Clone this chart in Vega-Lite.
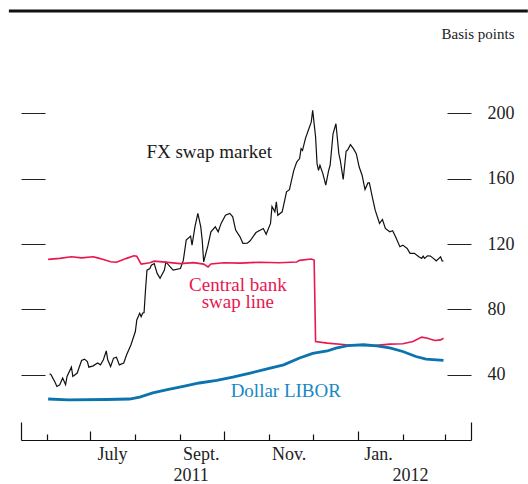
{
  "$schema": "https://vega.github.io/schema/vega-lite/v6.json",
  "width": 450,
  "height": 392,
  "autosize": "none",
  "padding": {"left": 21, "top": 48, "right": 57, "bottom": 44},
  "background": "white",
  "config": {
    "view": {"stroke": null},
    "font": "Liberation Serif",
    "axis": {"labelFont": "Liberation Serif", "titleFont": "Liberation Serif", "grid": false, "labelColor": "#222", "titleColor": "#222"}
  },
  "datasets": {
    "fx": [
      {"date": "2011-06-03", "value": 40.5}, {"date": "2011-06-04", "value": 40}, {"date": "2011-06-07", "value": 34.9}, {"date": "2011-06-08", "value": 32.8},
      {"date": "2011-06-10", "value": 33.8}, {"date": "2011-06-12", "value": 37.9}, {"date": "2011-06-14", "value": 33.8}, {"date": "2011-06-15", "value": 38.9},
      {"date": "2011-06-18", "value": 44.6}, {"date": "2011-06-19", "value": 38.9}, {"date": "2011-06-22", "value": 41}, {"date": "2011-06-25", "value": 48.7},
      {"date": "2011-06-27", "value": 49.5}, {"date": "2011-06-29", "value": 48}, {"date": "2011-06-30", "value": 44.6}, {"date": "2011-07-03", "value": 45.4},
      {"date": "2011-07-06", "value": 47.1}, {"date": "2011-07-08", "value": 46}, {"date": "2011-07-10", "value": 49.1}, {"date": "2011-07-12", "value": 54.6},
      {"date": "2011-07-13", "value": 49.1}, {"date": "2011-07-15", "value": 45}, {"date": "2011-07-17", "value": 50.1}, {"date": "2011-07-19", "value": 50.7},
      {"date": "2011-07-21", "value": 46}, {"date": "2011-07-24", "value": 47.1}, {"date": "2011-07-26", "value": 52.2}, {"date": "2011-07-29", "value": 58.3},
      {"date": "2011-08-01", "value": 66.4}, {"date": "2011-08-02", "value": 73.5}, {"date": "2011-08-04", "value": 77.6}, {"date": "2011-08-05", "value": 75.5},
      {"date": "2011-08-06", "value": 77.6}, {"date": "2011-08-07", "value": 78}, {"date": "2011-08-08", "value": 92}, {"date": "2011-08-09", "value": 104},
      {"date": "2011-08-11", "value": 105}, {"date": "2011-08-12", "value": 107}, {"date": "2011-08-14", "value": 108}, {"date": "2011-08-16", "value": 102},
      {"date": "2011-08-18", "value": 99}, {"date": "2011-08-21", "value": 104}, {"date": "2011-08-22", "value": 109}, {"date": "2011-08-25", "value": 106},
      {"date": "2011-08-27", "value": 104}, {"date": "2011-09-01", "value": 105}, {"date": "2011-09-03", "value": 110}, {"date": "2011-09-05", "value": 122.4},
      {"date": "2011-09-08", "value": 124.8}, {"date": "2011-09-09", "value": 119.3}, {"date": "2011-09-11", "value": 130.5}, {"date": "2011-09-13", "value": 138.7},
      {"date": "2011-09-15", "value": 130.5}, {"date": "2011-09-16", "value": 122.4}, {"date": "2011-09-17", "value": 109}, {"date": "2011-09-20", "value": 119.3},
      {"date": "2011-09-22", "value": 127.5}, {"date": "2011-09-25", "value": 130.5}, {"date": "2011-09-27", "value": 127.5}, {"date": "2011-09-29", "value": 132.6},
      {"date": "2011-10-02", "value": 137.6}, {"date": "2011-10-05", "value": 138.7}, {"date": "2011-10-07", "value": 136.6}, {"date": "2011-10-09", "value": 128.5},
      {"date": "2011-10-12", "value": 124.4}, {"date": "2011-10-14", "value": 120.4}, {"date": "2011-10-17", "value": 120.5}, {"date": "2011-10-19", "value": 122},
      {"date": "2011-10-23", "value": 127}, {"date": "2011-10-28", "value": 129.5}, {"date": "2011-10-30", "value": 126}, {"date": "2011-11-02", "value": 132.6},
      {"date": "2011-11-03", "value": 143}, {"date": "2011-11-05", "value": 139.7}, {"date": "2011-11-06", "value": 145.8}, {"date": "2011-11-07", "value": 137.6},
      {"date": "2011-11-10", "value": 139.7}, {"date": "2011-11-13", "value": 151.9}, {"date": "2011-11-15", "value": 153.3}, {"date": "2011-11-18", "value": 165.1},
      {"date": "2011-11-20", "value": 170.2}, {"date": "2011-11-22", "value": 172.3}, {"date": "2011-11-23", "value": 178.4}, {"date": "2011-11-24", "value": 177.3},
      {"date": "2011-11-26", "value": 184.5}, {"date": "2011-11-28", "value": 189.6}, {"date": "2011-11-30", "value": 194.6}, {"date": "2011-12-01", "value": 201.8},
      {"date": "2011-12-03", "value": 185.5}, {"date": "2011-12-04", "value": 169.2}, {"date": "2011-12-05", "value": 165.1}, {"date": "2011-12-06", "value": 168.2},
      {"date": "2011-12-08", "value": 163.1}, {"date": "2011-12-10", "value": 156}, {"date": "2011-12-12", "value": 165.1}, {"date": "2011-12-13", "value": 168.2},
      {"date": "2011-12-15", "value": 187.5}, {"date": "2011-12-17", "value": 193.6}, {"date": "2011-12-19", "value": 175.3}, {"date": "2011-12-20", "value": 171.2},
      {"date": "2011-12-22", "value": 159.5}, {"date": "2011-12-24", "value": 176.8}, {"date": "2011-12-25", "value": 177.5}, {"date": "2011-12-27", "value": 180.8},
      {"date": "2011-12-29", "value": 178.4}, {"date": "2011-12-31", "value": 175.3}, {"date": "2012-01-02", "value": 167.1}, {"date": "2012-01-04", "value": 162.1},
      {"date": "2012-01-06", "value": 153.3}, {"date": "2012-01-08", "value": 157.4}, {"date": "2012-01-09", "value": 157.4}, {"date": "2012-01-11", "value": 148.8},
      {"date": "2012-01-13", "value": 140.7}, {"date": "2012-01-16", "value": 132.6}, {"date": "2012-01-18", "value": 135}, {"date": "2012-01-20", "value": 129.5},
      {"date": "2012-01-23", "value": 127.5}, {"date": "2012-01-25", "value": 128.1}, {"date": "2012-01-27", "value": 124.4}, {"date": "2012-01-30", "value": 118.3},
      {"date": "2012-02-01", "value": 119.3}, {"date": "2012-02-04", "value": 117.3}, {"date": "2012-02-06", "value": 114.3}, {"date": "2012-02-09", "value": 114.3},
      {"date": "2012-02-12", "value": 112.2}, {"date": "2012-02-14", "value": 111.2}, {"date": "2012-02-15", "value": 112.6}, {"date": "2012-02-16", "value": 111.2},
      {"date": "2012-02-18", "value": 112.8}, {"date": "2012-02-20", "value": 112.6}, {"date": "2012-02-22", "value": 111.2}, {"date": "2012-02-24", "value": 109.7},
      {"date": "2012-02-27", "value": 112.2}, {"date": "2012-02-28", "value": 109.7}, {"date": "2012-02-29", "value": 109.6}
    ],
    "cb": [
      {"date": "2011-06-02", "value": 110.6}, {"date": "2011-06-10", "value": 111.2}, {"date": "2011-06-18", "value": 112.2}, {"date": "2011-06-25", "value": 111.5},
      {"date": "2011-07-03", "value": 112.2}, {"date": "2011-07-06", "value": 111.5}, {"date": "2011-07-10", "value": 110.5}, {"date": "2011-07-15", "value": 109.1},
      {"date": "2011-07-19", "value": 108.8}, {"date": "2011-07-26", "value": 111.2}, {"date": "2011-07-31", "value": 112.8}, {"date": "2011-08-02", "value": 112.5},
      {"date": "2011-08-05", "value": 107.7}, {"date": "2011-08-11", "value": 108.5}, {"date": "2011-08-14", "value": 109.5}, {"date": "2011-08-25", "value": 108.6},
      {"date": "2011-09-01", "value": 108}, {"date": "2011-09-10", "value": 108.6}, {"date": "2011-09-17", "value": 107.7}, {"date": "2011-09-20", "value": 106},
      {"date": "2011-09-22", "value": 107.8}, {"date": "2011-10-01", "value": 108.5}, {"date": "2011-10-12", "value": 108.3}, {"date": "2011-10-25", "value": 108.8},
      {"date": "2011-11-08", "value": 108.5}, {"date": "2011-11-20", "value": 109}, {"date": "2011-11-22", "value": 110}, {"date": "2011-11-30", "value": 110.8},
      {"date": "2011-12-02", "value": 110.2}, {"date": "2011-12-03", "value": 60.3}, {"date": "2011-12-11", "value": 59.3}, {"date": "2011-12-24", "value": 58.3},
      {"date": "2012-01-12", "value": 57.8}, {"date": "2012-01-23", "value": 58.7}, {"date": "2012-02-01", "value": 58.9}, {"date": "2012-02-08", "value": 60.3},
      {"date": "2012-02-14", "value": 63}, {"date": "2012-02-18", "value": 62.3}, {"date": "2012-02-23", "value": 60.9}, {"date": "2012-02-27", "value": 61.3},
      {"date": "2012-02-29", "value": 62.3}
    ],
    "libor": [
      {"date": "2011-06-02", "value": 25.1}, {"date": "2011-06-16", "value": 24.6}, {"date": "2011-07-12", "value": 24.8}, {"date": "2011-07-28", "value": 25.1},
      {"date": "2011-08-04", "value": 26.3}, {"date": "2011-08-13", "value": 28.8}, {"date": "2011-08-23", "value": 30.8}, {"date": "2011-09-03", "value": 32.8},
      {"date": "2011-09-14", "value": 34.9}, {"date": "2011-09-26", "value": 36.5}, {"date": "2011-10-07", "value": 38.5}, {"date": "2011-10-19", "value": 41},
      {"date": "2011-10-30", "value": 43.4}, {"date": "2011-11-11", "value": 46}, {"date": "2011-11-22", "value": 50.2}, {"date": "2011-12-01", "value": 53},
      {"date": "2011-12-11", "value": 54.5}, {"date": "2011-12-17", "value": 56.2}, {"date": "2011-12-25", "value": 57.8}, {"date": "2012-01-05", "value": 58.3},
      {"date": "2012-01-14", "value": 57.6}, {"date": "2012-01-23", "value": 56.4}, {"date": "2012-02-01", "value": 54.2}, {"date": "2012-02-10", "value": 51.1},
      {"date": "2012-02-17", "value": 49.5}, {"date": "2012-02-29", "value": 48.7}
    ],
    "labels": [
      {"label": "FX swap market", "date": "2011-09-20T19:00:00Z", "value": 172.9, "series": "fx"},
      {"label": "Central bank\nswap line", "date": "2011-10-10T12:00:00Z", "value": 91.4, "series": "cb"},
      {"label": "Dollar LIBOR", "date": "2011-11-12T12:00:00Z", "value": 26.3, "series": "libor"}
    ]
  },
  "layer": [
    {
      "data": {"name": "fx"},
      "mark": {"type": "line", "color": "#111111", "strokeWidth": 1.2},
      "encoding": {
        "x": {
          "field": "date", "type": "temporal",
          "scale": {"type": "utc", "domain": [{"year": 2011, "month": 5, "date": 14, "hours": 8, "utc": true}, {"year": 2012, "month": 3, "date": 18, "hours": 22, "utc": true}]},
          "axis": {
            "orient": "bottom", "title": null, "labels": false, "domain": true, "domainColor": "#111111", "domainWidth": 1.2,
            "ticks": true, "tickColor": "#111111", "tickWidth": 1.2,
            "values": [
              {"year": 2011, "month": 5, "date": 14, "hours": 8, "utc": true},
              {"year": 2011, "month": 6, "date": 1, "utc": true}, {"year": 2011, "month": 7, "date": 1, "utc": true},
              {"year": 2011, "month": 8, "date": 1, "utc": true}, {"year": 2011, "month": 9, "date": 1, "utc": true},
              {"year": 2011, "month": 10, "date": 1, "utc": true}, {"year": 2011, "month": 11, "date": 1, "utc": true},
              {"year": 2011, "month": 12, "date": 1, "utc": true}, {"year": 2012, "month": 1, "date": 1, "utc": true},
              {"year": 2012, "month": 2, "date": 1, "utc": true}, {"year": 2012, "month": 3, "date": 1, "utc": true},
              {"year": 2012, "month": 3, "date": 18, "hours": 22, "utc": true}
            ],
            "tickSize": {
              "condition": [
                {"test": "utcdate(datum.value) != 1", "value": -18},
                {"test": "utcmonth(datum.value) % 3 == 0", "value": -9}
              ],
              "value": -6
            }
          }
        },
        "y": {
          "field": "value", "type": "quantitative", "scale": {"domain": [0, 240]},
          "axis": {"orient": "left", "title": null, "labels": false, "domain": false, "values": [40, 80, 120, 160, 200], "tickSize": -24, "tickColor": "#222222", "tickWidth": 1}
        }
      }
    },
    {
      "data": {"name": "cb"},
      "mark": {"type": "line", "color": "#e8174f", "strokeWidth": 1.6},
      "encoding": {
        "x": {
          "field": "date", "type": "temporal",
          "axis": {
            "orient": "bottom", "title": null, "domain": false, "ticks": false, "labelPadding": 19, "labelBaseline": "alphabetic",
            "labelFontSize": 18, "labelFlush": false, "labelOverlap": false,
            "values": [
              {"year": 2011, "month": 7, "date": 16, "utc": true}, {"year": 2011, "month": 9, "date": 15, "utc": true},
              {"year": 2011, "month": 11, "date": 14, "hours": 12, "utc": true}, {"year": 2012, "month": 1, "date": 15, "utc": true}
            ],
            "labelExpr": "utcmonth(datum.value) == 6 ? 'July' : utcmonth(datum.value) == 8 ? 'Sept.' : utcmonth(datum.value) == 10 ? 'Nov.' : 'Jan.'"
          }
        },
        "y": {
          "field": "value", "type": "quantitative",
          "axis": {
            "orient": "right", "offset": -24, "domain": false, "values": [40, 80, 120, 160, 200], "tickSize": 24, "tickColor": "#222222", "tickWidth": 1,
            "labelPadding": 16, "labelFontSize": 18,
            "title": "Basis points", "titleAngle": 0, "titleAlign": "right", "titleBaseline": "alphabetic", "titleX": 67, "titleY": -10,
            "titleFontSize": 15, "titleFontWeight": "normal"
          }
        }
      }
    },
    {
      "data": {"name": "libor"},
      "mark": {"type": "line", "color": "#0b73ad", "strokeWidth": 2.8},
      "encoding": {
        "x": {
          "field": "date", "type": "temporal",
          "axis": {
            "orient": "bottom", "title": null, "domain": false, "ticks": false, "labelPadding": 40, "labelBaseline": "alphabetic",
            "labelFontSize": 18, "labelFlush": false, "labelOverlap": false,
            "values": [{"year": 2011, "month": 9, "date": 8, "utc": true}, {"year": 2012, "month": 2, "date": 6, "utc": true}],
            "labelExpr": "utcyear(datum.value)"
          }
        },
        "y": {"field": "value", "type": "quantitative", "axis": null}
      }
    },
    {
      "mark": {"type": "rule", "color": "#555555", "strokeWidth": 1},
      "encoding": {"y": {"datum": 240, "type": "quantitative", "axis": null}}
    },
    {
      "data": {"values": [{}]},
      "mark": {"type": "rule", "color": "#111111", "strokeWidth": 3, "clip": false},
      "encoding": {
        "y": {"datum": 262.7, "type": "quantitative", "axis": null},
        "x": {"datum": 1304640000000, "type": "temporal", "axis": null},
        "x2": {"datum": 1335484800000}
      }
    },
    {
      "data": {"name": "labels"},
      "mark": {"type": "text", "font": "Liberation Serif", "fontSize": 19, "align": "center", "baseline": "alphabetic", "lineBreak": "\n", "lineHeight": 17.6},
      "encoding": {
        "x": {"field": "date", "type": "temporal", "axis": null},
        "y": {"field": "value", "type": "quantitative", "axis": null},
        "text": {"field": "label"},
        "color": {"field": "series", "type": "nominal", "scale": {"domain": ["fx", "cb", "libor"], "range": ["#1a1a1a", "#e8174f", "#1888c4"]}, "legend": null}
      }
    }
  ],
  "resolve": {"axis": {"x": "independent", "y": "independent"}}
}
